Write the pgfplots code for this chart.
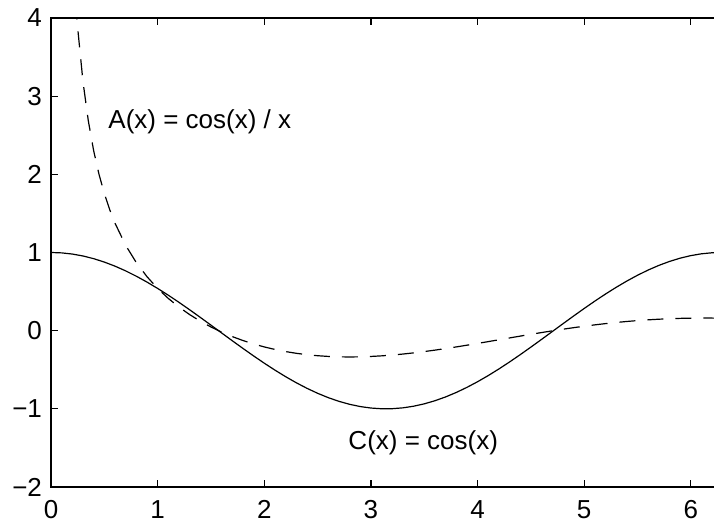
\documentclass[border=0pt]{standalone}
\usepackage{fontspec}
\setmainfont{Liberation Sans}
\usepackage{pgfplots}
\pgfplotsset{compat=1.18}

\begin{document}
\fontsize{13}{15}\selectfont
\begin{tikzpicture}
\begin{axis}[
    scale only axis, width=335pt, height=234.5pt,
    xmin=0, xmax=6.2832, ymin=-2, ymax=4,
    xtick={0,1,2,3,4,5,6},
    ytick={-2,-1,0,1,2,3,4},
    yticklabels={−2,−1,0,1,2,3,4},
    /pgf/number format/assume math mode=true,
    tick align=inside, major tick length=3.5pt,
    axis line style={line width=0.9pt},
    every tick/.style={black, line width=0.6pt},
    tick label style={font=\fontsize{13}{15}\selectfont},
    xticklabel style={yshift=-2.2pt},
  ]
  % C(x) = cos(x)
  \addplot[black, line width=0.6pt] coordinates {
    (0,1) (0.1,0.99500) (0.2,0.98007) (0.3,0.95534) (0.4,0.92106) (0.5,0.87758)
    (0.6,0.82534) (0.7,0.76484) (0.8,0.69671) (0.9,0.62161) (1.0,0.54030)
    (1.1,0.45360) (1.2,0.36236) (1.3,0.26750) (1.4,0.16997) (1.5,0.07074)
    (1.6,-0.02920) (1.7,-0.12884) (1.8,-0.22720) (1.9,-0.32329) (2.0,-0.41615)
    (2.1,-0.50485) (2.2,-0.58850) (2.3,-0.66628) (2.4,-0.73739) (2.5,-0.80114)
    (2.6,-0.85689) (2.7,-0.90407) (2.8,-0.94222) (2.9,-0.97096) (3.0,-0.98999)
    (3.1,-0.99914) (3.2,-0.99829) (3.3,-0.98748) (3.4,-0.96680) (3.5,-0.93646)
    (3.6,-0.89676) (3.7,-0.84810) (3.8,-0.79097) (3.9,-0.72593) (4.0,-0.65364)
    (4.1,-0.57482) (4.2,-0.49026) (4.3,-0.40080) (4.4,-0.30733) (4.5,-0.21080)
    (4.6,-0.11215) (4.7,-0.01239) (4.8,0.08750) (4.9,0.18651) (5.0,0.28366)
    (5.1,0.37798) (5.2,0.46852) (5.3,0.55437) (5.4,0.63469) (5.5,0.70867)
    (5.6,0.77557) (5.7,0.83471) (5.8,0.88552) (5.9,0.92748) (6.0,0.96017)
    (6.1,0.98327) (6.2,0.99654) (6.2832,1)
  };
  % A(x) = cos(x)/x
  \addplot[black, line width=0.6pt, dash pattern=on 8pt off 6pt] coordinates {
    (0.2,4.9004) (0.22,4.436) (0.25,3.8756) (0.3,3.1845) (0.35,2.684)
    (0.4,2.3027) (0.45,2.001) (0.5,1.7552) (0.55,1.550) (0.6,1.3756)
    (0.7,1.0926) (0.8,0.8709) (0.9,0.6907) (1.0,0.5403) (1.1,0.4124)
    (1.2,0.3020) (1.3,0.2058) (1.4,0.1214) (1.5,0.0472) (1.6,-0.0183)
    (1.7,-0.0758) (1.8,-0.1262) (1.9,-0.1702) (2.0,-0.2081) (2.1,-0.2404)
    (2.2,-0.2675) (2.3,-0.2897) (2.4,-0.3072) (2.5,-0.3205) (2.6,-0.3296)
    (2.7,-0.3348) (2.8,-0.3365) (2.9,-0.3348) (3.0,-0.3300) (3.1,-0.3223)
    (3.2,-0.3120) (3.3,-0.2992) (3.4,-0.2844) (3.5,-0.2676) (3.6,-0.2491)
    (3.7,-0.2292) (3.8,-0.2082) (3.9,-0.1861) (4.0,-0.1634) (4.1,-0.1402)
    (4.2,-0.1167) (4.3,-0.0932) (4.4,-0.0698) (4.5,-0.0468) (4.6,-0.0244)
    (4.7,-0.0026) (4.8,0.0182) (4.9,0.0381) (5.0,0.0567) (5.1,0.0741)
    (5.2,0.0901) (5.3,0.1046) (5.4,0.1175) (5.5,0.1289) (5.6,0.1385)
    (5.7,0.1464) (5.8,0.1527) (5.9,0.1572) (6.0,0.1600) (6.1,0.1612)
    (6.2,0.1607) (6.2832,0.1592)
  };
  \node[anchor=base west, inner sep=0pt] at (axis cs:0.535,2.58) {A(x) = cos(x) / x};
  \node[anchor=base west, inner sep=0pt] at (axis cs:2.786,-1.524) {C(x) = cos(x)};
  \coordinate (sw) at (rel axis cs:0,0);
  \coordinate (ne) at (rel axis cs:1,1);
\end{axis}
% the reference is cut just short of the right frame
\pgfresetboundingbox
\path ([xshift=-25.5pt,yshift=-18pt]sw) rectangle ([xshift=-3.5pt,yshift=9pt]ne);
\end{tikzpicture}
\end{document}
